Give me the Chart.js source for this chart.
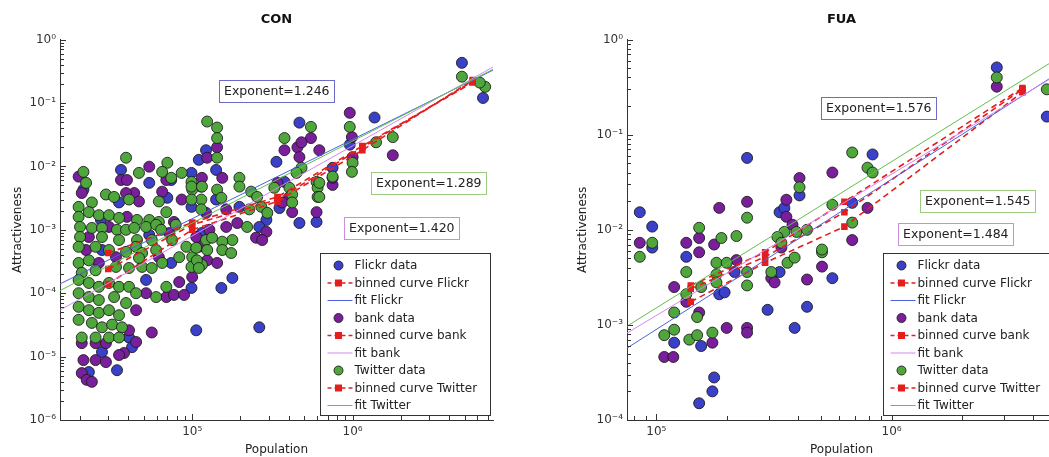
<!DOCTYPE html>
<html>
<head>
<meta charset="utf-8">
<script src="https://cdn.jsdelivr.net/npm/chart.js@4.4.0/dist/chart.umd.min.js"></script>
<style>
  html, body { margin: 0; padding: 0; background: #fff; overflow: hidden; }
  body { width: 1049px; height: 457px; position: relative; }
  .panel { position: absolute; top: 0; }
  #left { left: 0; }
  #right { left: 520px; }
</style>
</head>
<body>
<div class="panel" id="left"><canvas id="con" width="520" height="457"></canvas></div>
<div class="panel" id="right"><canvas id="fua" width="545" height="457"></canvas></div>
<script>
// ---- CON panel data: [population, attractiveness] ----
const conFlickr = [
  [3.6e4,0.0088],[5.4e4,0.0055],[1.22e5,0.018],[1.1e5,0.0127],[9.9e4,0.0079],[2.1e4,0.0043],[3.5e4,0.0027],
  [7.0e4,0.0032],[2.7e4,0.00143],[5.4e4,0.00083],[1.15e5,0.00089],[2.74e4,0.00048],[7.4e4,0.0003],[5.16e4,0.000162],
  [9.9e4,0.000121],[4.04e4,2.0e-5],[1.06e5,2.6e-5],[2.74e4,1.18e-5],[4.22e4,1.41e-5],[3.4e4,6.1e-6],[2.27e4,5.7e-6],
  [1.41e5,0.0088],[1.41e5,0.003],[9.9e4,0.0023],[1.97e5,0.0023],[2.9e5,0.00143],[2.62e5,0.00111],[1.78e5,0.000174],
  [1.52e5,0.000121],[3.35e5,0.0118],[4.66e5,0.049],[3.76e5,0.0057],[3.5e5,0.0022],[4.66e5,0.00128],[5.96e5,0.00133],
  [7.5e5,0.0095],[9.6e5,0.022],[1.37e6,0.059],[4.8e6,0.43],[6.5e6,0.12],[2.62e5,2.9e-5],[7.4e4,0.0061]
];
const conBank = [
  [5.4e4,0.0099],[3.6e4,0.0061],[3.92e4,0.0061],[6.9e4,0.0061],[1.14e5,0.0048],[1.96e4,0.0069],[2.05e4,0.0038],
  [4.35e4,0.0038],[3.87e4,0.0038],[4.66e4,0.0028],[6.5e4,0.004],[8.6e4,0.003],[3.92e4,0.0016],[7.7e4,0.00133],
  [1.22e5,0.00185],[3.03e4,0.00111],[7.2e4,0.00089],[2.27e4,0.00077],[1.1e5,0.00054],[2.18e4,0.00048],[3.35e4,0.00037],
  [6.2e4,0.00037],[2.62e4,0.0003],[5.16e4,0.0001],[6.9e4,8.7e-5],[7.7e4,9.4e-5],[8.9e4,9.4e-5],[8.3e4,0.00015],
  [4.47e4,5.4e-5],[4.04e4,2.6e-5],[2.05e4,1.63e-5],[2.5e4,1.63e-5],[2.9e4,1.63e-5],[4.47e4,1.7e-5],[5.6e4,2.4e-5],
  [3.76e4,1.14e-5],[2.1e4,8.8e-6],[2.5e4,8.8e-6],[2.9e4,8.2e-6],[3.5e4,1.06e-5],[2.05e4,5.5e-6],[2.2e4,4.3e-6],
  [2.37e4,4.0e-6],[1.43e5,0.02],[1.24e5,0.0137],[1.54e5,0.0066],[1.15e5,0.0066],[1.63e5,0.0021],[2.5e5,0.00075],
  [2.9e5,0.00093],[1.91e5,0.00128],[1.63e5,0.00111],[1.28e5,0.001],[1.06e5,0.00077],[1.24e5,0.00033],[1.43e5,0.0003],
  [1.0e5,0.00018],[3.76e5,0.018],[5.5e5,0.028],[4.53e5,0.02],[4.66e5,0.014],[6.2e5,0.018],[4.04e5,0.0033],
  [3.65e5,0.0027],[4.2e5,0.0019],[3.4e5,0.0055],[5.96e5,0.0019],[7.5e5,0.0051],[7.5e5,0.0066],[9.6e5,0.07],
  [9.9e5,0.029],[1.0e6,0.014],[1.78e6,0.015],[4.8e5,0.024],[2.73e5,0.00069]
];
const conTwitter = [
  [3.87e4,0.0137],[7.0e4,0.0114],[4.66e4,0.0079],[6.5e4,0.0082],[7.4e4,0.0066],[8.6e4,0.0079],[9.9e4,0.0057],
  [1.0e5,0.0043],[2.1e4,0.0082],[2.18e4,0.0055],[2.9e4,0.0036],[3.26e4,0.0033],[4.04e4,0.003],[1.96e4,0.0023],
  [2.37e4,0.0027],[6.2e4,0.0028],[1.14e5,0.003],[1.14e5,0.0021],[1.96e4,0.0016],[2.27e4,0.0019],[2.62e4,0.0017],
  [3.03e4,0.0017],[3.5e4,0.00154],[4.53e4,0.00143],[5.4e4,0.00143],[6.2e4,0.00133],[6.9e4,0.0019],[2.0e4,0.00111],
  [2.37e4,0.00107],[2.74e4,0.00107],[3.4e4,0.001],[3.87e4,0.001],[4.35e4,0.00107],[5.16e4,0.00111],[5.96e4,0.0012],
  [6.4e4,0.001],[7.9e4,0.0012],[2.0e4,0.00077],[2.74e4,0.00077],[3.5e4,0.00069],[4.53e4,0.00069],[5.6e4,0.00069],
  [7.5e4,0.00069],[9.2e4,0.00054],[1.22e5,0.00069],[1.96e4,0.00054],[2.5e4,0.00054],[3.03e4,0.00048],[3.87e4,0.00045],
  [4.47e4,0.00054],[4.87e4,0.00043],[5.96e4,0.00048],[6.5e4,0.0003],[8.3e4,0.00037],[1.0e5,0.00037],[9.9e4,0.00026],
  [1.15e5,0.00028],[1.96e4,0.0003],[2.27e4,0.00033],[2.05e4,0.00021],[2.5e4,0.00023],[3.35e4,0.00026],[4.04e4,0.00025],
  [4.87e4,0.00026],[5.6e4,0.00025],[4.66e4,0.00036],[5.96e4,8.7e-5],[6.9e4,0.000126],[1.96e4,0.000162],[2.27e4,0.000145],
  [2.62e4,0.000126],[3.03e4,0.000145],[3.5e4,0.000126],[4.04e4,0.000126],[4.47e4,0.0001],[1.96e4,0.0001],[2.27e4,8.7e-5],
  [2.62e4,7.8e-5],[3.26e4,8.7e-5],[3.87e4,7.0e-5],[1.96e4,6.1e-5],[2.27e4,5.4e-5],[2.62e4,4.9e-5],[3.03e4,5.4e-5],
  [3.5e4,4.5e-5],[1.96e4,3.8e-5],[2.37e4,3.4e-5],[2.74e4,2.9e-5],[3.17e4,3.2e-5],[3.65e4,2.9e-5],[2.05e4,2.0e-5],
  [2.5e4,2.0e-5],[3.03e4,2.0e-5],[3.5e4,2.0e-5],[1.24e5,0.051],[1.43e5,0.041],[1.43e5,0.028],[1.43e5,0.0137],
  [9.9e4,0.0048],[1.15e5,0.0048],[9.9e4,0.003],[1.43e5,0.0043],[1.52e5,0.0032],[1.97e5,0.0066],[1.97e5,0.0048],
  [2.33e5,0.004],[2.54e5,0.0033],[2.7e5,0.0023],[2.27e5,0.0021],[2.94e5,0.00185],[2.2e5,0.00111],[1.78e5,0.00069],
  [1.54e5,0.00065],[1.33e5,0.00075],[1.06e5,0.00052],[1.24e5,0.00048],[1.54e5,0.00048],[1.75e5,0.00043],[1.07e5,0.00033],
  [1.1e5,0.00025],[3.76e5,0.028],[4.8e5,0.0095],[4.47e5,0.0079],[3.25e5,0.0046],[4.04e5,0.0046],[4.2e5,0.0036],
  [4.2e5,0.0027],[5.96e5,0.0057],[6.05e5,0.0046],[6.05e5,0.0033],[7.5e5,0.0069],[9.6e5,0.042],[1.0e6,0.0114],
  [9.9e5,0.0082],[1.4e6,0.024],[1.78e6,0.029],[4.8e6,0.26],[6.7e6,0.18],[6.2e6,0.21],[5.5e5,0.042],[6.2e5,0.0055],
  [6.2e5,0.0033]
];
const conBinX = [3.0e4, 1.0e5, 3.4e5, 1.15e6, 5.6e6];
const conBinFlickr = [2.4e-4, 1.2e-3, 3.0e-3, 2.0e-2, 0.22];
const conBinBank = [1.4e-4, 1.0e-3, 2.8e-3, 1.8e-2, 0.23];
const conBinTwitter = [4.3e-4, 1.3e-3, 3.3e-3, 2.1e-2, 0.21];
const conFitX = [1.5e4, 7.5e6];
const conFitFlickr = [1.4e-4, 0.33];
const conFitBank = [5.4e-5, 0.37];
const conFitTwitter = [1.1e-4, 0.34];
const conExponents = ['Exponent=1.246', 'Exponent=1.289', 'Exponent=1.420'];

// ---- FUA panel data ----
const fuaFlickr = [
  [2.43e5,0.057],[4.06e5,0.023],[8.5e4,0.0153],[9.6e4,0.0108],[9.6e4,0.0065],[1.34e5,0.0052],[3.34e5,0.0153],
  [3.5e5,0.017],[2.15e5,0.0036],[3.34e5,0.0036],[4.37e5,0.00155],[1.85e5,0.0021],[1.95e5,0.0022],[1.19e5,0.00065],
  [1.55e5,0.0006],[2.97e5,0.00144],[3.87e5,0.00093],[1.76e5,0.00028],[1.73e5,0.0002],[1.52e5,0.00015],[2.8e6,0.51],
  [4.57e6,0.155],[8.3e5,0.062],[6.8e5,0.0192],[5.6e5,0.0031]
];
const fuaBank = [
  [4.06e5,0.035],[1.85e5,0.017],[2.43e5,0.0197],[8.5e4,0.0073],[3.57e5,0.0207],[3.57e5,0.0137],[3.79e5,0.0113],
  [3.4e5,0.0065],[1.52e5,0.0082],[1.76e5,0.007],[1.34e5,0.0073],[1.52e5,0.0058],[2.19e5,0.0048],[3.08e5,0.0031],
  [3.18e5,0.0028],[5.06e5,0.0041],[4.37e5,0.003],[1.19e5,0.0025],[1.34e5,0.00175],[1.52e5,0.00135],[1.99e5,0.00093],
  [2.43e5,0.00093],[2.43e5,0.00083],[1.73e5,0.00065],[1.08e5,0.00046],[1.18e5,0.00046],[2.8e6,0.32],[5.6e5,0.04],
  [7.9e5,0.017],[6.8e5,0.0078]
];
const fuaTwitter = [
  [4.06e5,0.028],[2.43e5,0.0134],[9.6e4,0.0073],[8.5e4,0.0052],[3.5e5,0.0095],[3.94e5,0.0095],[4.37e5,0.01],
  [3.27e5,0.0084],[3.4e5,0.0073],[1.52e5,0.0105],[1.89e5,0.0082],[2.19e5,0.0086],[1.34e5,0.0036],[1.8e5,0.0045],
  [1.99e5,0.0045],[1.8e5,0.0034],[2.43e5,0.0036],[3.08e5,0.0036],[3.61e5,0.0045],[3.87e5,0.0051],[5.06e5,0.0058],
  [1.8e5,0.0028],[2.43e5,0.0026],[1.55e5,0.0025],[1.34e5,0.0021],[1.19e5,0.00135],[1.49e5,0.00121],[1.08e5,0.00078],
  [1.19e5,0.00089],[1.38e5,0.0007],[1.49e5,0.00078],[1.73e5,0.00083],[2.8e6,0.40],[4.57e6,0.30],[6.8e5,0.065],
  [7.9e5,0.045],[8.3e5,0.04],[5.6e5,0.0183],[6.8e5,0.0119],[5.06e5,0.0062]
];
const fuaBinX = [1.4e5, 2.9e5, 6.3e5, 3.6e6];
const fuaBinFlickr = [0.0026, 0.0058, 0.0197, 0.31];
const fuaBinBank = [0.00175, 0.0045, 0.0108, 0.28];
const fuaBinTwitter = [0.0024, 0.0052, 0.0153, 0.30];
const fuaFitX = [7.5e4, 5e6];
const fuaFitFlickr = [5.7e-4, 0.43];
const fuaFitBank = [8.2e-4, 0.42];
const fuaFitTwitter = [9.7e-4, 0.62];
const fuaExponents = ['Exponent=1.576', 'Exponent=1.545', 'Exponent=1.484'];

const FONT = '"DejaVu Sans", "Liberation Sans", sans-serif';
const C = {
  flickr: '#3a40c8', bank: '#7a1f9c', twitter: '#4fa63c',
  fitFlickr: '#4a62e0', fitBank: '#d487ee', fitTwitter: '#62bf4f',
  binned: '#e41e1e'
};

const pts = arr => arr.map(([x, y]) => ({ x, y }));
const zipPts = (xs, ys) => xs.map((x, i) => ({ x, y: ys[i] }));

const SUP = { '-': '\u207B', '0': '\u2070', '1': '\u00B9', '2': '\u00B2', '3': '\u00B3', '4': '\u2074',
  '5': '\u2075', '6': '\u2076', '7': '\u2077', '8': '\u2078', '9': '\u2079' };
function powLabel(v) {
  const e = Math.log10(v);
  if (Math.abs(e - Math.round(e)) > 1e-9) return '';
  return '10' + String(Math.round(e)).split('').map(c => SUP[c]).join('');
}

// 1..9 x 10^k positions inside a log scale's range
function logSteps(scale) {
  const out = [];
  const lo = Math.floor(Math.log10(scale.min)), hi = Math.ceil(Math.log10(scale.max));
  for (let e = lo; e <= hi; e++) {
    for (let m = 1; m <= 9; m++) {
      const v = m * Math.pow(10, e);
      if (v >= scale.min * 0.999 && v <= scale.max * 1.001) out.push({ v, major: m === 1 });
    }
  }
  return out;
}

// MATLAB style inward tick marks
const inTicks = {
  id: 'inTicks',
  afterDatasetsDraw(chart) {
    const { ctx, chartArea: a, scales: { x, y } } = chart;
    ctx.save();
    ctx.strokeStyle = '#333';
    ctx.lineWidth = 1;
    ctx.beginPath();
    logSteps(x).forEach(t => {
      const px = Math.round(x.getPixelForValue(t.v)) + 0.5;
      ctx.moveTo(px, a.bottom);
      ctx.lineTo(px, a.bottom - (t.major ? 6 : 4));
    });
    logSteps(y).forEach(t => {
      const py = Math.round(y.getPixelForValue(t.v)) + 0.5;
      ctx.moveTo(a.left, py);
      ctx.lineTo(a.left + (t.major ? 6 : 4), py);
    });
    ctx.stroke();
    ctx.restore();
  }
};

// exponent boxes + boxed legend inside the axes
const boxes = {
  id: 'boxes',
  afterDraw(chart, args, opts) {
    const { ctx, chartArea: a, scales: { x, y } } = chart;
    ctx.save();
    ctx.font = '12.5px ' + FONT;
    ctx.textBaseline = 'middle';
    opts.notes.forEach(n => {
      const left = Math.round(x.getPixelForValue(n.x)) + 0.5;
      const top = Math.round(y.getPixelForValue(n.y)) + 0.5;
      const w = Math.round(ctx.measureText(n.text).width) + 9;
      ctx.fillStyle = '#fff';
      ctx.fillRect(left, top, w, 22);
      ctx.strokeStyle = n.color;
      ctx.lineWidth = 1;
      ctx.strokeRect(left, top, w, 22);
      ctx.fillStyle = '#222';
      ctx.fillText(n.text, left + 4.5, top + 11.5);
    });

    // legend
    const w = 170, h = 162, rowH = 17.5;
    const x0 = Math.round(a.right - 3 - w) + 0.5, y0 = Math.round(a.bottom - 5 - h) + 0.5;
    ctx.fillStyle = '#fff';
    ctx.fillRect(x0, y0, w, h);
    ctx.strokeStyle = '#333';
    ctx.strokeRect(x0, y0, w, h);
    ctx.font = '12px ' + FONT;
    chart.data.datasets.forEach((ds, i) => {
      const cy = y0 + 12 + i * rowH;
      const sx = x0 + 7, ex = x0 + 32, mx = x0 + 18;
      if (ds.showLine && ds.pointRadius === 0) {
        ctx.strokeStyle = ds.borderColor;
        ctx.lineWidth = 1;
        ctx.setLineDash([]);
        ctx.beginPath(); ctx.moveTo(sx, cy); ctx.lineTo(ex, cy); ctx.stroke();
      } else if (ds.showLine) {
        ctx.strokeStyle = ds.borderColor;
        ctx.lineWidth = 1.6;
        ctx.setLineDash([4, 3]);
        ctx.beginPath(); ctx.moveTo(sx, cy); ctx.lineTo(ex, cy); ctx.stroke();
        ctx.setLineDash([]);
        ctx.fillStyle = ds.pointBackgroundColor;
        ctx.fillRect(mx - 3.5, cy - 3.5, 7, 7);
      } else {
        ctx.beginPath();
        ctx.arc(mx, cy, 4.5, 0, Math.PI * 2);
        ctx.fillStyle = ds.backgroundColor;
        ctx.fill();
        ctx.strokeStyle = ds.borderColor;
        ctx.lineWidth = 1;
        ctx.stroke();
      }
      ctx.fillStyle = '#222';
      ctx.fillText(ds.label, x0 + 34, cy + 0.5);
    });
    ctx.restore();
  }
};

function scatterSet(label, data, color, order) {
  return { label, data: pts(data), backgroundColor: color, borderColor: 'rgba(25,25,25,0.85)',
    borderWidth: 1, pointRadius: 5.5, showLine: false, order };
}
function binnedSet(label, xs, ys, order) {
  return { label, data: zipPts(xs, ys), showLine: true, borderColor: C.binned, borderWidth: 1.6,
    borderDash: [6, 4], pointStyle: 'rect', pointRadius: 3.5, pointBackgroundColor: C.binned,
    pointBorderColor: C.binned, backgroundColor: C.binned, order };
}
function fitSet(label, xs, ys, color, order) {
  return { label, data: zipPts(xs, ys), showLine: true, borderColor: color, borderWidth: 1,
    pointRadius: 0, order };
}

function makeChart(id, p) {
  const tickFont = { family: FONT, size: 12 };
  return new Chart(document.getElementById(id), {
    type: 'scatter',
    data: {
      datasets: [
        scatterSet('Flickr data', p.flickr, C.flickr, 8),
        binnedSet('binned curve Flickr', p.binX, p.binFlickr, 4),
        fitSet('fit Flickr', p.fitX, p.fitFlickr, C.fitFlickr, 2),
        scatterSet('bank data', p.bank, C.bank, 7),
        binnedSet('binned curve bank', p.binX, p.binBank, 5),
        fitSet('fit bank', p.fitX, p.fitBank, C.fitBank, 1),
        scatterSet('Twitter data', p.twitter, C.twitter, 6),
        binnedSet('binned curve Twitter', p.binX, p.binTwitter, 3),
        fitSet('fit Twitter', p.fitX, p.fitTwitter, C.fitTwitter, 0)
      ]
    },
    options: {
      responsive: false,
      animation: false,
      events: [],
      layout: { padding: { left: p.padLeft, right: p.padRight, top: 0, bottom: 0 } },
      scales: {
        x: {
          type: 'logarithmic', min: p.xMin, max: p.xMax,
          grid: { display: false, drawTicks: false },
          border: { display: true, color: '#333', width: 1 },
          ticks: { autoSkip: false, maxRotation: 0, padding: 5, color: '#333', font: tickFont, callback: v => powLabel(v) },
          title: { display: true, text: 'Population', color: '#222', font: tickFont, padding: { top: 0, bottom: 0 } },
          afterFit: s => { s.height = 37; }
        },
        y: {
          type: 'logarithmic', min: p.yMin, max: 1,
          grid: { display: false, drawTicks: false },
          border: { display: true, color: '#333', width: 1 },
          ticks: { autoSkip: false, padding: 4, color: '#333', font: tickFont, callback: v => powLabel(v) },
          title: { display: true, text: 'Attractiveness', color: '#222', font: tickFont, padding: { top: 3, bottom: 0 } },
          afterFit: s => { s.width = p.yWidth; }
        }
      },
      plugins: {
        legend: { display: false },
        tooltip: { enabled: false },
        title: { display: true, text: p.title, fullSize: false, color: '#111',
          font: { family: FONT, size: 13, weight: 'bold' }, padding: { top: 12, bottom: 12 } },
        boxes: { notes: p.notes }
      }
    },
    plugins: [inTicks, boxes]
  });
}

makeChart('con', {
  title: 'CON', flickr: conFlickr, bank: conBank, twitter: conTwitter,
  binX: conBinX, binFlickr: conBinFlickr, binBank: conBinBank, binTwitter: conBinTwitter,
  fitX: conFitX, fitFlickr: conFitFlickr, fitBank: conFitBank, fitTwitter: conFitTwitter,
  xMin: 1.5e4, xMax: 7.5e6, yMin: 1e-6, padLeft: 8, padRight: 27, yWidth: 52,
  notes: [
    { text: conExponents[0], x: 1.47e5, y: 0.233, color: '#6b6bcc' },
    { text: conExponents[1], x: 1.31e6, y: 0.0082, color: '#9ccc82' },
    { text: conExponents[2], x: 8.8e5, y: 0.0016, color: '#c98fdd' }
  ]
});

makeChart('fua', {
  title: 'FUA', flickr: fuaFlickr, bank: fuaBank, twitter: fuaTwitter,
  binX: fuaBinX, binFlickr: fuaBinFlickr, binBank: fuaBinBank, binTwitter: fuaBinTwitter,
  fitX: fuaFitX, fitFlickr: fuaFitFlickr, fitBank: fuaFitBank, fitTwitter: fuaFitTwitter,
  xMin: 7.5e4, xMax: 5e6, yMin: 1e-4, padLeft: 53, padRight: 9, yWidth: 54,
  notes: [
    { text: fuaExponents[0], x: 4.99e5, y: 0.251, color: '#6b6bcc' },
    { text: fuaExponents[1], x: 1.32e6, y: 0.0264, color: '#9ccc82' },
    { text: fuaExponents[2], x: 1.06e6, y: 0.0119, color: '#c98fdd' }
  ]
});
</script>
</body>
</html>
